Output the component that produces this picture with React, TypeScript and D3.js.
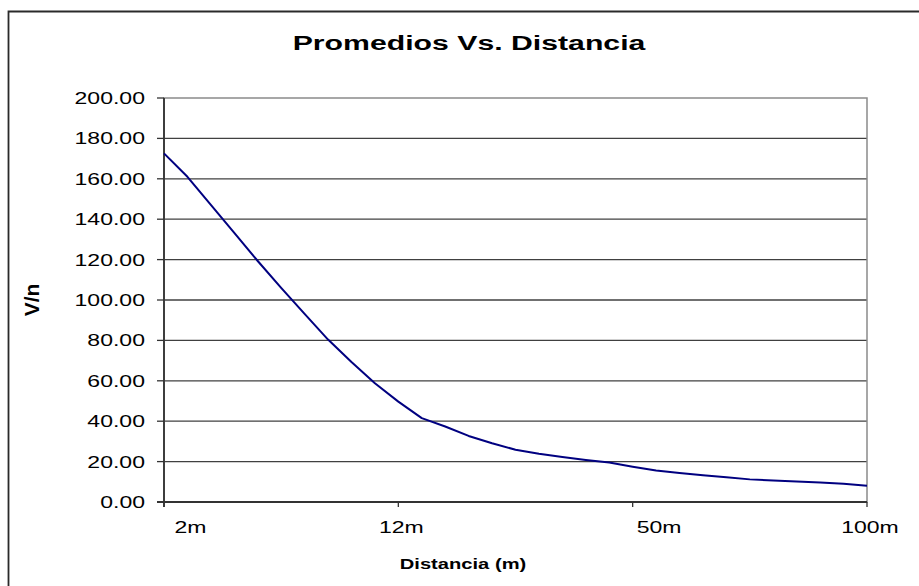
import React, { useEffect, useRef } from 'react';
import * as d3 from 'd3';

const WIDTH = 919;
const HEIGHT = 586;
// plot box in page pixels
const PLOT = { left: 164, right: 867, top: 98, bottom: 502 };
// the source picture is stretched sideways, so text is too
const SX = 1.44;
const FONT = '"Liberation Sans", Arial, sans-serif';

// V/n promedio por punto de medida (31 puntos, eje de categorías)
const promedios = [
    172.6, 161.0, 147.1, 133.2, 119.3, 106.0, 93.1, 80.4, 69.3, 58.8,
    49.7, 41.5, 37.4, 32.7, 29.1, 25.9, 23.9, 22.3, 20.8, 19.5,
    17.5, 15.6, 14.4, 13.2, 12.2, 11.2, 10.6, 10.1, 9.6, 9.0, 8.1,
];
const tickCats = [0, 10, 20, 30];
const labelCats = [1, 10, 21, 30];
const labelText = ['2m', '12m', '50m', '100m'];
const yTicks = [0, 20, 40, 60, 80, 100, 120, 140, 160, 180, 200];

const Chart: React.FC = () => {
    const svgRef = useRef<SVGSVGElement>(null);

    useEffect(() => {
        if (!svgRef.current) return;
        const svg = d3.select(svgRef.current);
        svg.selectAll('*').remove();

        const x = d3.scaleLinear().domain([0, promedios.length - 1]).range([PLOT.left, PLOT.right]);
        const y = d3.scaleLinear().domain([0, 200]).range([PLOT.bottom, PLOT.top]);

        svg.append('rect').attr('width', WIDTH).attr('height', HEIGHT).attr('fill', 'white');

        // borde del gráfico (sólo se ven arriba y a la izquierda)
        svg.append('path')
            .attr('d', `M8.5,${HEIGHT + 5} L8.5,11.5 L${WIDTH + 5},11.5`)
            .attr('fill', 'none')
            .attr('stroke', '#2a2a2a')
            .attr('stroke-width', 1.8);

        const stretched = (px: number, py: number, txt: string, size: number, weight: string, anchor: string) =>
            svg.append('text')
                .attr('transform', `translate(${px},${py}) scale(${SX},1)`)
                .attr('text-anchor', anchor)
                .style('font-family', FONT)
                .style('font-size', `${size}px`)
                .style('font-weight', weight)
                .style('fill', '#000')
                .text(txt);

        stretched(469, 50, 'Promedios Vs. Distancia', 21, 'bold', 'middle');

        // líneas de división
        svg.append('g').selectAll('line').data(yTicks.slice(1, -1)).enter().append('line')
            .attr('x1', PLOT.left).attr('x2', PLOT.right)
            .attr('y1', d => y(d)).attr('y2', d => y(d))
            .attr('stroke', '#404040').attr('stroke-width', 1.3);

        svg.append('rect')
            .attr('x', PLOT.left).attr('y', PLOT.top)
            .attr('width', PLOT.right - PLOT.left).attr('height', PLOT.bottom - PLOT.top)
            .attr('fill', 'none').attr('stroke', '#8a8a8a').attr('stroke-width', 1.5);

        // eje Y
        svg.append('line')
            .attr('x1', PLOT.left).attr('x2', PLOT.left)
            .attr('y1', PLOT.top).attr('y2', PLOT.bottom + 5)
            .attr('stroke', '#333').attr('stroke-width', 1.8);
        svg.append('g').selectAll('line').data(yTicks).enter().append('line')
            .attr('x1', PLOT.left - 7).attr('x2', PLOT.left)
            .attr('y1', d => y(d)).attr('y2', d => y(d))
            .attr('stroke', '#333').attr('stroke-width', 1.3);
        yTicks.forEach(t => {
            stretched(145, y(t) + 6, d3.format('.2f')(t), 16, 'normal', 'end');
        });

        // eje X
        svg.append('line')
            .attr('x1', PLOT.left - 7).attr('x2', PLOT.right)
            .attr('y1', PLOT.bottom).attr('y2', PLOT.bottom)
            .attr('stroke', '#333').attr('stroke-width', 1.8);
        svg.append('g').selectAll('line').data(tickCats).enter().append('line')
            .attr('x1', d => x(d)).attr('x2', d => x(d))
            .attr('y1', PLOT.bottom).attr('y2', PLOT.bottom + 5)
            .attr('stroke', '#333').attr('stroke-width', 1.3);
        labelCats.forEach((c, i) => {
            stretched(x(c) + 3, 533, labelText[i], 16, 'normal', 'middle');
        });

        stretched(463, 569, 'Distancia (m)', 14, 'bold', 'middle');

        svg.append('text')
            .attr('transform', `translate(39,${(PLOT.top + PLOT.bottom) / 2}) rotate(-90)`)
            .attr('text-anchor', 'middle')
            .style('font-family', FONT)
            .style('font-size', '21px')
            .style('font-weight', 'bold')
            .text('V/n');

        const line = d3.line<number>()
            .x((_, i) => x(i))
            .y(d => y(d));

        svg.append('path')
            .datum(promedios)
            .attr('d', line)
            .attr('fill', 'none')
            .attr('stroke', '#000080')
            .attr('stroke-width', 2)
            .attr('stroke-linejoin', 'round');
    }, []);

    return (
        <svg
            ref={svgRef}
            width={WIDTH}
            height={HEIGHT}
            style={{ position: 'absolute', left: 0, top: 0, display: 'block' }}
        />
    );
};

export default function App() {
    return <Chart />;
}
